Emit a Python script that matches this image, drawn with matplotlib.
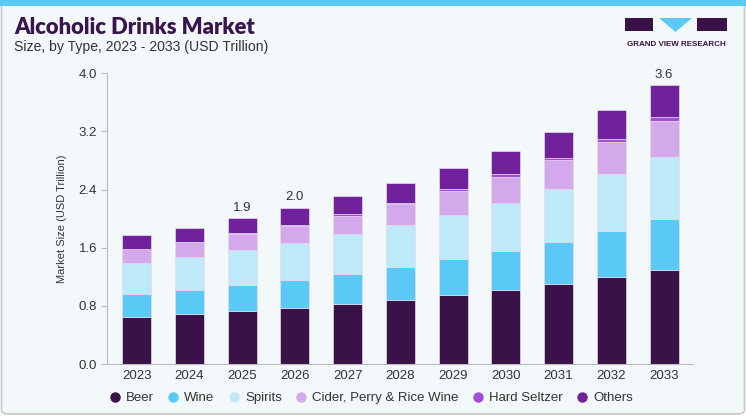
import matplotlib
matplotlib.use("Agg")
import matplotlib.pyplot as plt
import numpy as np
from matplotlib.patches import FancyBboxPatch, Rectangle, Polygon
from matplotlib.lines import Line2D

plt.rcParams["font.family"] = ["Liberation Sans", "DejaVu Sans"]

years = ["2023", "2024", "2025", "2026", "2027", "2028", "2029", "2030", "2031", "2032", "2033"]
segments = ["Beer", "Wine", "Spirits", "Cider, Perry & Rice Wine", "Hard Seltzer", "Others"]
beer = [0.651, 0.688, 0.729, 0.775, 0.826, 0.877, 0.945, 1.018, 1.097, 1.197, 1.294]
wine = [0.312, 0.330, 0.358, 0.385, 0.417, 0.454, 0.496, 0.533, 0.582, 0.633, 0.705]
spirits = [0.427, 0.450, 0.482, 0.501, 0.542, 0.582, 0.609, 0.669, 0.729, 0.789, 0.854]
cider = [0.190, 0.205, 0.217, 0.237, 0.257, 0.287, 0.332, 0.357, 0.395, 0.436, 0.491]
hard_seltzer = [0.010, 0.010, 0.012, 0.015, 0.018, 0.020, 0.022, 0.033, 0.036, 0.041, 0.055]
others = [0.180, 0.193, 0.207, 0.238, 0.256, 0.267, 0.297, 0.325, 0.358, 0.395, 0.436]
labels = {"2025": "1.9", "2026": "2.0", "2033": "3.6"}

colors = ["#3a1149", "#5bc9f5", "#bde9f9", "#d4a9eb", "#a14fd9", "#71219c"]
bg = "#f3f8fb"
text_col = "#333333"

fig = plt.figure(figsize=(7.46, 4.19), dpi=100)
fig.patch.set_facecolor("white")

# card background + top strip (kept behind the axes)
card = FancyBboxPatch((0.002, 0.012), 0.996, 0.99, boxstyle="round,pad=0,rounding_size=0.01",
                      transform=fig.transFigure, facecolor=bg, edgecolor="#c8c8c8", lw=1.2,
                      zorder=-10)
fig.patches.append(card)
fig.patches.append(Rectangle((0, 0.985), 1, 0.015, transform=fig.transFigure,
                             facecolor="#5bc9f3", edgecolor="none", zorder=-9))

ax = fig.add_axes([0.143, 0.131, 0.786, 0.694])
ax.set_facecolor(bg)

series = [beer, wine, spirits, cider, hard_seltzer, others]
x = np.arange(len(years))
bottom = np.zeros(len(years))
for vals, c in zip(series, colors):
    ax.bar(x, vals, width=0.55, bottom=bottom, color=c, edgecolor="#e6d9f0", linewidth=0.5)
    bottom += np.array(vals)

for i, y in enumerate(years):
    if y in labels:
        ax.text(x[i], bottom[i] + 0.06, labels[y], ha="center", va="bottom",
                fontsize=9.5, color=text_col)

ax.set_xlim(-0.57, 10.55)
ax.set_ylim(0, 4.0)
ax.set_yticks([0.0, 0.8, 1.6, 2.4, 3.2, 4.0])
ax.set_yticklabels(["0.0", "0.8", "1.6", "2.4", "3.2", "4.0"])
ax.set_xticks(x)
ax.set_xticklabels(years)
ax.tick_params(axis="y", length=4, color="#bbbbbb", labelsize=9.5, labelcolor=text_col, pad=3)
ax.tick_params(axis="x", length=0, labelsize=9.5, labelcolor=text_col, pad=4)
for s in ["top", "right"]:
    ax.spines[s].set_visible(False)
for s in ["left", "bottom"]:
    ax.spines[s].set_color("#bbbbbb")
    ax.spines[s].set_linewidth(0.8)
ax.set_ylabel("Market Size (USD Trillion)", fontsize=8, color=text_col, labelpad=8)

# legend
handles = [Line2D([0], [0], marker="o", linestyle="none", markersize=6.5,
                  markerfacecolor=c, markeredgecolor=c) for c in colors]
fig.legend(handles, segments, loc="center", bbox_to_anchor=(0.4975, 0.05), ncol=6,
           frameon=False, fontsize=9.5, handlelength=0.8, handletextpad=0.45,
           columnspacing=1.05, labelcolor=text_col)

# titles
fig.text(0.019, 0.935, "Alcoholic Drinks Market", fontsize=15.8, fontweight="heavy",
         color="#3a1450", family=["Lato", "DejaVu Sans"], va="center")
fig.text(0.019, 0.888, "Size, by Type, 2023 - 2033 (USD Trillion)", fontsize=10.1,
         color=text_col, va="center")

# logo
logo = "#3a1149"
fig.patches.append(Rectangle((625 / 746, 1 - 31 / 419), 28 / 746, 13 / 419,
                             transform=fig.transFigure, facecolor=logo, edgecolor="none"))
fig.patches.append(Polygon([(659 / 746, 1 - 18 / 419), (692 / 746, 1 - 18 / 419),
                            (675.5 / 746, 1 - 32 / 419)], closed=True,
                           transform=fig.transFigure, facecolor="#5bc9f5", edgecolor="none"))
fig.patches.append(Rectangle((697 / 746, 1 - 31 / 419), 30 / 746, 13 / 419,
                             transform=fig.transFigure, facecolor=logo, edgecolor="none"))
fig.text(676 / 746, 1 - 44 / 419, "GRAND VIEW RESEARCH", fontsize=5.8, fontweight="bold",
         color=logo, ha="center", va="center")

fig.savefig("out.png", dpi=100, facecolor=fig.get_facecolor())
